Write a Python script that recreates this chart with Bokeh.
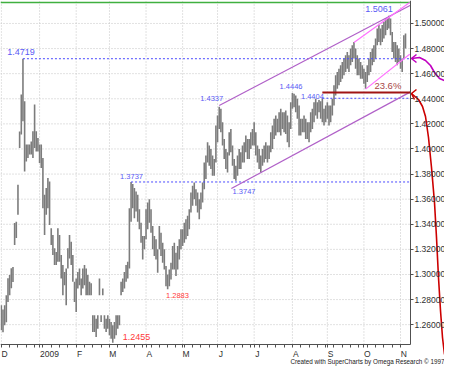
import pandas as pd
from bokeh.plotting import figure
from bokeh.models import ColumnDataSource, Range1d, FixedTicker, PrintfTickFormatter
from bokeh.core.properties import value
from bokeh.embed import file_html
from bokeh.resources import INLINE

# ---------------- data ----------------
dates = pd.bdate_range("2008-12-01", "2009-11-05")

highs = [
    1.2755, 1.2720, 1.2755, 1.2835, 1.2970, 1.2995, 1.3050, 1.3060, 1.3410, 1.3420,
    1.3715, 1.4140, 1.4435, 1.4719, 1.4380, 1.4035, 1.4035, 1.4035, 1.4060, 1.4141,
    1.4355, 1.4141, 1.4088, 1.4035, 1.4035, 1.3928, 1.3635, 1.3688, 1.3768, 1.3741,
    1.3368, 1.3315, 1.3208, 1.3180, 1.3368, 1.3315, 1.3155, 1.3075, 1.3020, 1.3048,
    1.3208, 1.3315, 1.3261, 1.3155, 1.2941, 1.2968, 1.3020, 1.3048, 1.2968, 1.3048,
    1.3075, 1.3048, 1.2995, 1.2941, 1.2930, 1.2675, 1.2675, 1.2648, 1.2675, 1.2968,
    1.2675, 1.2888, 1.2675, 1.2648, 1.2675, 1.2648, 1.2621, 1.2595, 1.2621, 1.2675,
    1.2675, 1.2675, 1.2941, 1.2968, 1.3020, 1.3075, 1.3101, 1.3528, 1.3737, 1.3720,
    1.3688, 1.3661, 1.3635, 1.3520, 1.3413, 1.3307, 1.3307, 1.3520, 1.3573, 1.3600,
    1.3520, 1.3387, 1.3307, 1.3280, 1.3200, 1.3387, 1.3333, 1.3253, 1.3200, 1.3067,
    1.3000, 1.3040, 1.3093, 1.3227, 1.3253, 1.3173, 1.3227, 1.3280, 1.3360, 1.3360,
    1.3413, 1.3440, 1.3467, 1.3520, 1.3653, 1.3707, 1.3733, 1.3680, 1.3653, 1.3600,
    1.3653, 1.3733, 1.3893, 1.3947, 1.4053, 1.4027, 1.4000, 1.3947, 1.3920, 1.4187,
    1.4267, 1.4337, 1.4320, 1.4213, 1.4080, 1.4000, 1.3973, 1.4133, 1.4160, 1.4027,
    1.3920, 1.3867, 1.3947, 1.4000, 1.3973, 1.4027, 1.4053, 1.4107, 1.4080, 1.4080,
    1.4133, 1.4160, 1.4213, 1.4133, 1.4027, 1.4000, 1.3947, 1.4000, 1.4027, 1.4053,
    1.4027, 1.4027, 1.4133, 1.4187, 1.4240, 1.4267, 1.4240, 1.4293, 1.4320, 1.4293,
    1.4293, 1.4307, 1.4267, 1.4213, 1.4373, 1.4446, 1.4440, 1.4427, 1.4400, 1.4347,
    1.4240, 1.4240, 1.4267, 1.4240, 1.4213, 1.4213, 1.4293, 1.4320, 1.4373, 1.4400,
    1.4373, 1.4390, 1.4380, 1.4404, 1.4320, 1.4347, 1.4373, 1.4347, 1.4347, 1.4400,
    1.4507, 1.4587, 1.4613, 1.4640, 1.4667, 1.4693, 1.4720, 1.4747, 1.4773, 1.4747,
    1.4800, 1.4827, 1.4853, 1.4800, 1.4747, 1.4720, 1.4693, 1.4667, 1.4640, 1.4613,
    1.4667, 1.4720, 1.4773, 1.4800, 1.4827, 1.4880, 1.4960, 1.4987, 1.4960, 1.4987,
    1.5013, 1.5040, 1.5045, 1.5061, 1.5040, 1.4933, 1.4853, 1.4853, 1.4827, 1.4800,
    1.4747, 1.4720, 1.4907, 1.4920,
]

lows = [
    1.2555, 1.2540, 1.2595, 1.2620, 1.2780, 1.2835, 1.2890, 1.2940, 1.3235, 1.3290,
    1.3475, 1.4008, 1.4115, 1.4221, 1.3820, 1.3901, 1.3928, 1.3955, 1.3955, 1.3928,
    1.4008, 1.3980, 1.3980, 1.3888, 1.3848, 1.3528, 1.3315, 1.3475, 1.3528, 1.3395,
    1.3235, 1.3155, 1.3075, 1.3075, 1.3101, 1.3101, 1.2968, 1.2835, 1.2915, 1.2755,
    1.3048, 1.3128, 1.3075, 1.2941, 1.2781, 1.2701, 1.2888, 1.2915, 1.2835, 1.2888,
    1.2915, 1.2835, 1.2835, 1.2835, 1.2835, 1.2541, 1.2541, 1.2501, 1.2568, 1.2835,
    1.2621, 1.2835, 1.2568, 1.2541, 1.2568, 1.2515, 1.2488, 1.2455, 1.2488, 1.2515,
    1.2568, 1.2595, 1.2835, 1.2861, 1.2888, 1.2941, 1.2968, 1.3048, 1.3421, 1.3528,
    1.3448, 1.3501, 1.3421, 1.3360, 1.3253, 1.3120, 1.3200, 1.3280, 1.3360, 1.3413,
    1.3333, 1.3200, 1.3147, 1.3120, 1.3013, 1.3200, 1.3147, 1.3093, 1.3040, 1.2907,
    1.2883, 1.2907, 1.2960, 1.3040, 1.3040, 1.2987, 1.3040, 1.3120, 1.3200, 1.3227,
    1.3253, 1.3280, 1.3307, 1.3360, 1.3493, 1.3547, 1.3600, 1.3547, 1.3493, 1.3440,
    1.3520, 1.3573, 1.3680, 1.3760, 1.3893, 1.3867, 1.3840, 1.3787, 1.3787, 1.3893,
    1.4053, 1.4160, 1.4133, 1.4027, 1.3920, 1.3840, 1.3813, 1.3947, 1.3973, 1.3867,
    1.3760, 1.3747, 1.3787, 1.3840, 1.3840, 1.3893, 1.3893, 1.3973, 1.3920, 1.3920,
    1.4000, 1.4027, 1.4027, 1.3947, 1.3893, 1.3840, 1.3813, 1.3867, 1.3893, 1.3920,
    1.3893, 1.3920, 1.3973, 1.4000, 1.4080, 1.4107, 1.4133, 1.4133, 1.4107, 1.4160,
    1.4133, 1.4120, 1.4053, 1.4013, 1.4160, 1.4320, 1.4333, 1.4293, 1.4240, 1.4107,
    1.4107, 1.4133, 1.4133, 1.4080, 1.4080, 1.4053, 1.4133, 1.4160, 1.4213, 1.4267,
    1.4240, 1.4293, 1.4240, 1.4213, 1.4187, 1.4213, 1.4240, 1.4187, 1.4213, 1.4267,
    1.4347, 1.4427, 1.4480, 1.4507, 1.4533, 1.4560, 1.4587, 1.4613, 1.4640, 1.4613,
    1.4667, 1.4693, 1.4720, 1.4640, 1.4587, 1.4587, 1.4560, 1.4560, 1.4520, 1.4480,
    1.4533, 1.4587, 1.4613, 1.4667, 1.4693, 1.4720, 1.4827, 1.4853, 1.4827, 1.4853,
    1.4880, 1.4907, 1.4947, 1.4960, 1.4907, 1.4773, 1.4720, 1.4693, 1.4667, 1.4693,
    1.4640, 1.4613, 1.4720, 1.4800,
]

month_labels = ["D", "2009", "F", "M", "A", "M", "J", "J", "A", "S", "O", "N"]
y_ticks = [1.26, 1.28, 1.30, 1.32, 1.34, 1.36, 1.38, 1.40, 1.42, 1.44, 1.46, 1.48, 1.50]

# horizontal support / resistance levels: value, bar where they start
level_values = [1.4719, 1.3737, 1.4404]
level_start = [13, 78, 193]

# price labels: text, bar position, price position, colour, size
label_text = ["1.4719", "1.5061", "1.4337", "1.4446", "1.4404", "1.3737", "1.3747",
              "1.2883", "1.2455", "23.6%"]
label_x = [11.8, 227.0, 126.5, 174.2, 187.0, 78.3, 145.9, 105.9, 81.2, 232.4]
label_y = [1.4769, 1.5112, 1.4402, 1.4498, 1.4422, 1.3781, 1.3661, 1.2833, 1.2498, 1.4506]
label_color = ["#5a5af5", "#5a5af5", "#5a5af5", "#5a5af5", "#5a5af5", "#5a5af5", "#5a5af5",
               "#ff3a3a", "#ff3a3a", "#a84848"]
label_size = ["9px", "9px", "7.5px", "7.5px", "7.5px", "7.5px", "7.5px",
              "7.5px", "9px", "9.5px"]

# channel / trend lines: (bar0, price0) -> (bar1, price1)
trend_x0 = [131, 138.3, 212, 219]
trend_y0 = [1.4347, 1.3685, 1.4849, 1.4477]
trend_x1 = [246, 246, 245.5, 245.5]
trend_y1 = [1.5145, 1.4455, 1.5167, 1.4755]
trend_color = ["#b060c8", "#b060c8", "#ff70ff", "#ff70ff"]

fib_level = 1.4450
fib_start = 193
top_line = 1.5167
credit = "Created with SuperCharts by Omega Research \u00a9 1997"

# ---------------- geometry ----------------
FW, FH = 444, 369            # frame = whole figure
X0 = -0.5
XPX = 246.5 / 410            # bars per pixel
X_AXIS = X0 + 410 * XPX      # price axis position
X1 = X0 + FW * XPX
Y1 = 1.5183
YPX = 0.2741 / 344           # price per pixel
Y_AXIS = Y1 - 344 * YPX      # time axis position
Y0 = Y1 - FH * YPX

p = figure(frame_width=FW, frame_height=FH, x_range=Range1d(X0, X1), y_range=Range1d(Y0, Y1),
           y_axis_location="right", output_backend="svg", toolbar_location=None,
           min_border_left=0, min_border_top=0, min_border_right=0, min_border_bottom=0)
p.outline_line_color = None
p.background_fill_color = "white"
p.border_fill_color = "white"
p.xgrid.visible = False
p.ygrid.visible = False

FONT = "Liberation Sans"

idx = list(range(len(dates)))
month_start = [i for i in idx if i == 0 or dates[i].month != dates[i - 1].month]
week_start = [i for i in idx if dates[i].dayofweek == 0]

# dotted grid, limited to the price area
GRID = dict(line_color="#c4c4c4", line_dash="1 2", line_width=1)
p.segment(x0=[X0] * len(y_ticks), y0=y_ticks, x1=[X_AXIS] * len(y_ticks), y1=y_ticks, **GRID)
p.segment(x0=month_start, y0=[Y_AXIS] * len(month_start), x1=month_start,
          y1=[Y1] * len(month_start), **GRID)

# time axis: labels sit just right of each month boundary
lab_ticks = []
overrides = {}
for s, lab in zip(month_start, month_labels):
    t = s + int(round((len(lab) * 4.6 / 2 + 1.5) * XPX))
    lab_ticks.append(t)
    overrides[t] = lab
minor = sorted(set(week_start) | set(month_start))
xa = p.xaxis[0]
xa.fixed_location = Y_AXIS
xa.bounds = (X0, X_AXIS)
xa.ticker = FixedTicker(ticks=lab_ticks, minor_ticks=minor)
xa.major_label_overrides = overrides
xa.major_tick_out = 0
xa.major_tick_in = 0
xa.minor_tick_out = 3
xa.minor_tick_in = 0
xa.major_label_standoff = 1
xa.major_label_text_font = FONT
xa.major_label_text_font_size = "8.5px"
xa.major_label_text_color = "#303030"
xa.axis_line_color = "#505050"
xa.minor_tick_line_color = "#505050"

ya = p.yaxis[0]
ya.fixed_location = X_AXIS
ya.bounds = (Y_AXIS, Y1)
ya.ticker = FixedTicker(ticks=y_ticks, minor_ticks=[])
ya.formatter = PrintfTickFormatter(format="%.5f")
ya.major_tick_out = 3
ya.major_tick_in = 0
ya.minor_tick_out = 0
ya.major_label_standoff = 1
ya.major_label_text_font = FONT
ya.major_label_text_font_size = "8.5px"
ya.major_label_text_color = "#303030"
ya.axis_line_color = "#505050"
ya.major_tick_line_color = "#505050"

# top green line
p.segment(x0=[X0], y0=[top_line], x1=[X_AXIS], y1=[top_line], line_color="#40b040", line_width=1.5)

# bars
src = ColumnDataSource(dict(x=idx, high=highs, low=lows))
p.segment(x0="x", y0="low", x1="x", y1="high", source=src, line_color="#7c7c7c", line_width=1.6)

# dotted levels
p.segment(x0=level_start, y0=level_values, x1=[X_AXIS] * len(level_values), y1=level_values,
          line_color="#4a4aff", line_dash="2 2", line_width=1)

# channels
p.segment(x0=trend_x0, y0=trend_y0, x1=trend_x1, y1=trend_y1, line_color=trend_color, line_width=1.2)

# 23.6% retracement
p.segment(x0=[fib_start], y0=[fib_level], x1=[X_AXIS], y1=[fib_level], line_color="#a01414", line_width=2)

# texts
tsrc = ColumnDataSource(dict(x=label_x, y=label_y, t=label_text, c=label_color, s=label_size))
p.text(x="x", y="y", text="t", text_color="c", text_font_size="s", text_font=value(FONT),
       text_align="center", text_baseline="middle", source=tsrc)

# hand drawn arrows at the right (page pixel paths converted with the plot scales)
def to_data(pts):
    xs = [X0 + (px - 8) * XPX for px, py in pts]
    ys = [Y1 - (py - 8) * YPX for px, py in pts]
    return xs, ys

def stroke(pts, color):
    xs, ys = to_data(pts)
    p.line(xs, ys, line_color=color, line_width=1.6)

red_path = [(419, 101), (426, 107), (430, 114), (433, 124), (436, 145), (439, 175), (442, 210),
            (444, 245), (446, 285), (448, 318), (450, 345), (452, 362)]
mag_path = [(419, 66), (427, 65), (433, 68), (438, 73), (442, 80), (447, 86), (452, 88)]
stroke(red_path, "#cc0000")
stroke([(424, 97), (419, 101), (422, 107)], "#cc0000")
stroke(mag_path, "#c000c0")
stroke([(424, 62), (419, 66), (424, 70)], "#c000c0")

# credit line
cx, cy = to_data([(452, 369)])
p.text(x=cx, y=cy, text=[credit], text_font=value(FONT), text_font_size="6.3px",
       text_color="#202020", text_align="right", text_baseline="middle")

open("out.html", "w").write(file_html(p, INLINE))
